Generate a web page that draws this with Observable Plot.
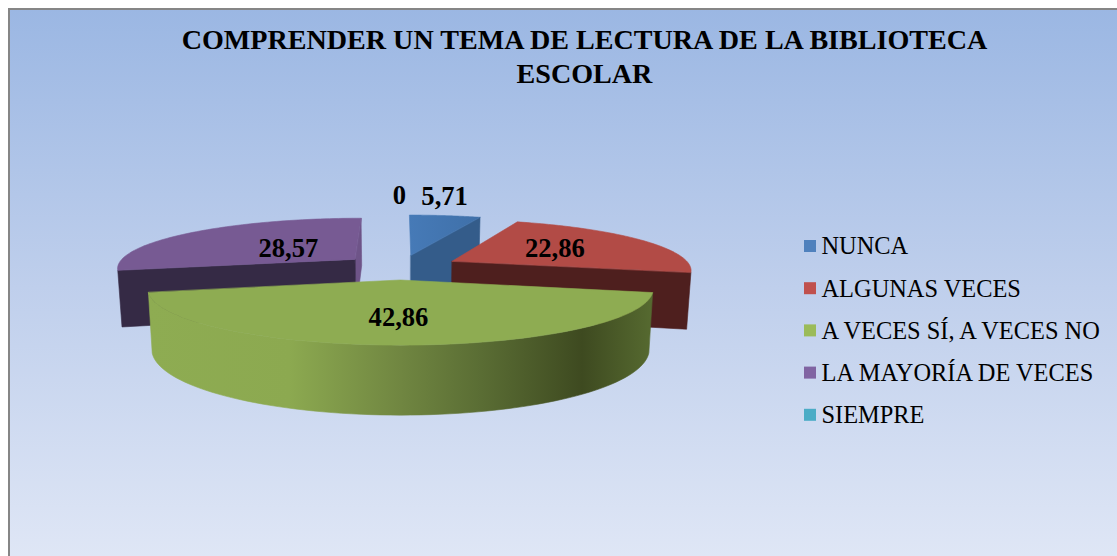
<!DOCTYPE html>
<html>
<head>
<meta charset="utf-8">
<style>html,body{margin:0;padding:0;background:#fff}svg{display:block}</style>
<script src="https://cdn.jsdelivr.net/npm/d3@7"></script>
<script src="https://cdn.jsdelivr.net/npm/@observablehq/plot@0.6"></script>
</head>
<body>
<div id="chart"></div>
<script>
const titleText = "COMPRENDER UN TEMA DE LECTURA DE LA BIBLIOTECA\nESCOLAR";
const categories = ["NUNCA", "ALGUNAS VECES", "A VECES SÍ, A VECES NO", "LA MAYORÍA DE VECES", "SIEMPRE"];
const values = [5.71, 22.86, 42.86, 28.57, 0];
const legendColors = ["#4f81bd", "#c0504d", "#9bbb59", "#8064a2", "#4bacc6"];
const topColors = ["#467ab7", "#b24b46", "#8eac52", "#775a93", "#4bacc6"];
const faceColors = ["#345c8a", "#4e1f1e", null, "#352a45", null];
const labelReach = [1.6, 0.58, 0.62, 0.37, 1.6];
const labelNudge = [-17, -10, -2, -3, -1];

// view of the tilted pie
const W = 1117, H = 556, R = 239, CX = 400, CY = 266.5;
const tilt = 50 / R, persp = 0.16, explode = 0.25, depth = 56 / R, shrink = 0.985;
const total = d3.sum(values);
const px = p => (p - CX) / R;
const py = p => (CY - p) / R;

let acc = 0;
const slices = values.map((v, i) => {
  const a0 = acc / total * 2 * Math.PI;
  acc += v;
  const a1 = acc / total * 2 * Math.PI;
  return {i, v, a0, a1, mid: (a0 + a1) / 2};
});

function project(s, r, a, low = false) {
  const U = explode * Math.sin(s.mid) + r * Math.sin(a);
  const V = explode * Math.cos(s.mid) + r * Math.cos(a);
  const k = 1 / (1 + persp * V);
  const x = U * k, y = V * k * tilt;
  return low ? {x: x * shrink, y: y - depth * k} : {x, y};
}
function arc(s, low) {
  const n = 80;
  return d3.range(n + 1).map(j => project(s, 1, s.a0 + (s.a1 - s.a0) * j / n, low));
}
const topFace = s => [project(s, 0, 0), ...arc(s, false)];
const radialFace = (s, a) => [project(s, 0, a), project(s, 1, a), project(s, 1, a, true), project(s, 0, a, true)];
const rimFace = s => [...arc(s, false), ...arc(s, true).reverse()];
const poly = (pts, fill) => Plot.line(pts, {x: "x", y: "y", fill, stroke: fill, strokeWidth: 0.6, curve: "linear-closed"});

const [blue, red, green, purple] = slices;

const defs = () => {
  const svg = d3.create("svg:defs");
  const add = (id, attrs, stops) => {
    const g = svg.append("linearGradient").attr("id", id);
    Object.entries(attrs).forEach(([k, v]) => g.attr(k, v));
    stops.forEach(([o, c]) => g.append("stop").attr("offset", o).attr("stop-color", c));
  };
  add("bg", {x1: 0, y1: 0, x2: 0, y2: 1}, [[0, "#9bb7e3"], [0.5, "#bfcfec"], [1, "#e0e7f6"]]);
  add("rim", {x1: 0, y1: 0, x2: 1, y2: 0}, [[0, "#8eac52"], [0.28, "#8ca950"], [0.5, "#708641"], [0.66, "#5a6d34"], [0.86, "#3e4a20"], [1, "#566a30"]]);
  add("blueTop", {x1: 0, y1: 0, x2: 1, y2: 0}, [[0, "#467ab7"], [1, "#3f70a9"]]);
  return svg.node();
};

const labels = slices.map((s, i) => {
  const a = s.v === 0 ? 2 * Math.PI : s.mid;
  const p = project({mid: a}, labelReach[i], a);
  return {x: p.x + labelNudge[i] / R, y: p.y, text: String(s.v).replace(".", ",")};
});

const legendRows = categories.map((c, i) => ({c, color: legendColors[i], row: 246 + i * 42.2}));

const chart = Plot.plot({
  width: W, height: H, margin: 0,
  x: {domain: [px(0), px(W)], range: [0, W], axis: null},
  y: {domain: [py(0), py(H)], range: [0, H], axis: null},
  style: {background: "white"},
  marks: [
    defs,
    Plot.rect([0], {x1: px(9), x2: px(W + 10), y1: py(9), y2: py(H + 10), fill: "url(#bg)", stroke: "#868686", strokeWidth: 2}),
    Plot.text([titleText], {x: px(584), y: py(24), text: d => d, lineAnchor: "top", textAnchor: "middle", fontFamily: "Liberation Serif", fontWeight: "bold", fontSize: 28.1, lineHeight: 1.21, fill: "black"}),
    // NUNCA
    poly(radialFace(blue, blue.a1), faceColors[0]),
    poly(topFace(blue), "url(#blueTop)"),
    // LA MAYORÍA DE VECES
    poly(radialFace(purple, purple.a1), "#6e5488"),
    poly(radialFace(purple, purple.a0), faceColors[3]),
    poly(topFace(purple), topColors[3]),
    // ALGUNAS VECES
    poly(radialFace(red, red.a1), faceColors[1]),
    poly(topFace(red), topColors[1]),
    // A VECES SÍ, A VECES NO
    poly(rimFace(green), "url(#rim)"),
    poly(topFace(green), topColors[2]),
    Plot.text(labels, {x: "x", y: "y", text: "text", fontFamily: "Liberation Serif", fontWeight: "bold", fontSize: 26.6, fill: "black"}),
    Plot.rect(legendRows, {x1: px(804), x2: px(816), y1: d => py(d.row - 6), y2: d => py(d.row + 6), fill: "color"}),
    Plot.text(legendRows, {x: px(821), y: d => py(d.row), text: "c", textAnchor: "start", fontFamily: "Liberation Serif", fontSize: 24.4, fill: "black"})
  ],
  color: {type: "identity"}
});
document.getElementById("chart").append(chart);
</script>
</body>
</html>
